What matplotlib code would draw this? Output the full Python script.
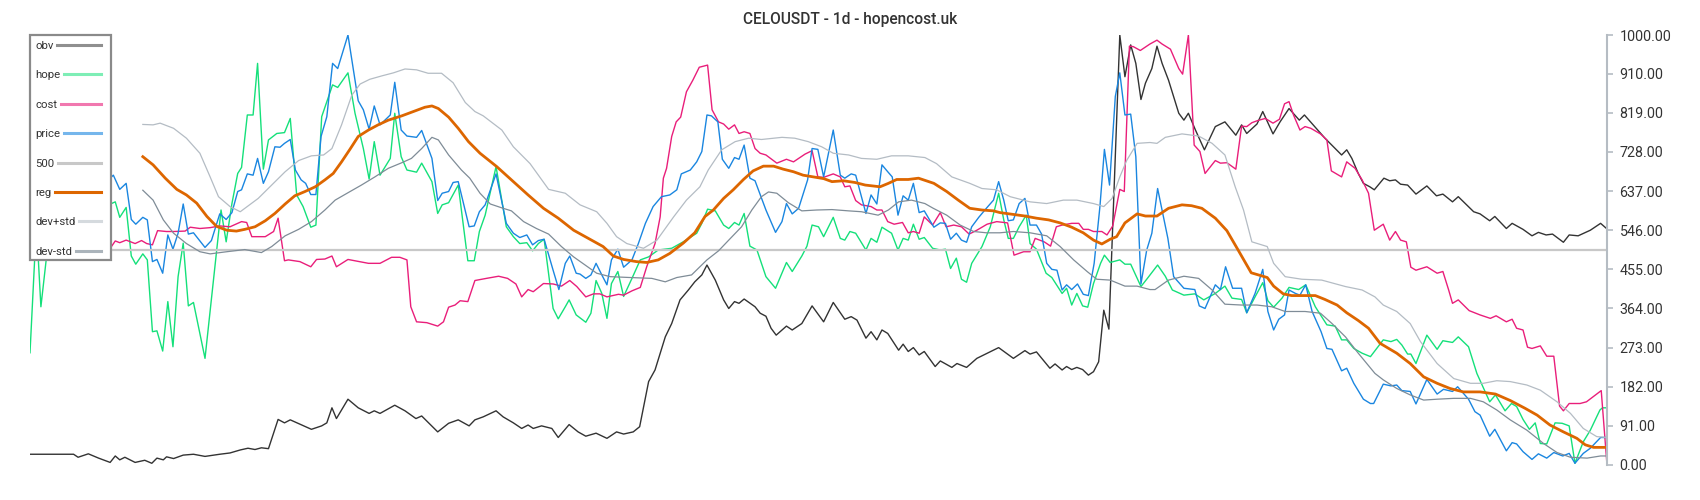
import matplotlib
matplotlib.use('Agg')
import matplotlib.pyplot as plt
from matplotlib.lines import Line2D
from matplotlib.patches import Rectangle

plt.rcParams['font.family'] = ['Roboto', 'DejaVu Sans']

# ---- data: (day, value) ----
obv_pts = [
    (0, 25), (3.6, 25), (6.8, 25), (7.5, 18), (9.1, 26), (10.7, 16), (12.5, 6), (13.3, 21), (14.0, 12),
    (14.8, 18), (16.4, 6), (17.9, 11), (19.0, 4), (19.8, 16), (20.8, 12), (21.3, 19), (22.4, 15), (23.9, 23),
    (25.5, 25), (27.3, 20), (29.6, 25), (31.2, 28), (32.8, 35), (34.0, 39), (35.1, 36), (36.1, 40), (37.2, 38),
    (38.7, 106), (39.7, 98), (40.6, 105), (42.1, 95), (43.9, 83), (45.5, 91), (46.3, 98), (47.1, 133), (47.8, 108),
    (49.6, 153), (51.2, 133), (52.9, 120), (53.7, 126), (54.6, 120), (56.9, 139), (58.5, 126), (60.2, 108),
    (61.1, 114), (63.6, 77), (65.3, 97), (66.8, 105), (68.5, 91), (69.4, 105), (70.7, 112), (72.7, 126),
    (73.8, 112), (75.4, 98), (76.7, 85), (77.7, 93), (78.5, 85), (79.8, 91), (81.4, 85), (82.4, 64), (84.1, 94),
    (85.5, 77), (86.7, 67), (88.3, 74), (90.0, 62), (91.5, 77), (92.6, 72), (94.1, 77), (95.1, 89), (96.5, 194),
    (97.5, 221), (99.1, 298), (100.1, 329), (101.4, 384), (102.7, 407), (103.7, 426), (104.8, 442), (105.6, 465),
    (106.9, 430), (108.2, 384), (109.0, 364), (109.9, 380), (110.6, 376), (111.4, 386), (113.1, 368), (113.9, 353),
    (114.8, 346), (115.6, 318), (116.4, 302), (118.0, 323), (118.9, 314), (120.4, 329), (122.0, 370), (123.8, 333),
    (125.3, 378), (127.1, 339), (128.1, 345), (129.0, 337), (130.4, 295), (131.2, 310), (132.1, 291), (132.9, 314),
    (133.8, 306), (135.5, 267), (136.2, 281), (137.0, 264), (137.8, 273), (138.7, 256), (139.5, 264), (141.2, 229),
    (142.0, 242), (143.8, 227), (144.6, 236), (146.1, 227), (147.7, 248), (151.1, 273), (153.4, 248), (155.2, 266),
    (156.0, 258), (157.0, 263), (159.1, 225), (159.9, 235), (161.0, 221), (161.7, 229), (162.5, 222), (163.3, 227),
    (164.2, 222), (165.1, 209), (165.9, 217), (166.7, 240), (167.5, 360), (168.3, 316), (170.0, 1000), (170.8, 903),
    (171.7, 977), (172.5, 934), (173.3, 850), (174.0, 888), (175.0, 922), (175.8, 974), (176.6, 934), (177.6, 895),
    (179.2, 818), (180.0, 802), (180.7, 818), (181.8, 779), (183.2, 733), (184.9, 787), (186.4, 798), (188.1, 767),
    (189.0, 791), (189.8, 771), (191.4, 793), (192.3, 822), (193.9, 770), (195.0, 798), (196.4, 829), (198.0, 802),
    (198.8, 814), (202.0, 760), (204.6, 721), (205.4, 733), (206.2, 713), (207.2, 678), (208.0, 655), (209.0, 647),
    (209.7, 640), (211.2, 667), (212.1, 661), (213.0, 663), (213.8, 653), (214.9, 651), (216.2, 630), (217.9, 649),
    (219.4, 626), (220.4, 630), (221.9, 612), (222.8, 624), (225.2, 589), (226.2, 584), (227.7, 568), (228.5, 578),
    (230.3, 550), (231.2, 562), (232.9, 548), (234.3, 533), (235.3, 541), (236.5, 535), (237.5, 537), (239.2, 518),
    (240.1, 535), (241.5, 533), (243.4, 546), (245.0, 562), (246.0, 549),
]

hope_pts = [
    (0, 261), (1, 560), (1.7, 368), (3, 540), (5, 600), (7, 560), (9, 610), (11, 575), (12.7, 608), (13.3, 612),
    (14.0, 576), (15.0, 599), (15.8, 486), (16.5, 467), (17.6, 491), (18.3, 477), (19.1, 310), (19.8, 312),
    (20.7, 265), (21.5, 380), (22.3, 275), (23.1, 438), (23.9, 516), (24.7, 370), (25.5, 378), (27.3, 248),
    (29.8, 593), (30.6, 519), (31.5, 608), (32.4, 678), (33.0, 692), (33.9, 814), (34.8, 814), (35.5, 934),
    (36.4, 688), (37.2, 756), (38.5, 771), (39.7, 773), (40.6, 806), (41.6, 628), (42.6, 601), (43.8, 553),
    (44.6, 558), (45.5, 810), (47.2, 884), (48.0, 878), (49.6, 912), (50.7, 818), (52.0, 736), (52.9, 665),
    (53.7, 752), (54.6, 674), (56.2, 713), (56.9, 818), (57.9, 717), (58.8, 686), (60.3, 681), (61.1, 702),
    (62.7, 659), (63.6, 585), (64.3, 605), (65.3, 610), (66.8, 651), (68.3, 475), (69.3, 475), (70.1, 543),
    (71.0, 581), (72.7, 694), (74.3, 554), (75.4, 531), (76.4, 515), (77.5, 517), (78.4, 498), (79.3, 515),
    (80.2, 525), (81.6, 364), (82.4, 340), (83.5, 368), (84.1, 384), (85.2, 349), (86.7, 332), (87.5, 353),
    (88.3, 429), (89.2, 399), (90.0, 341), (90.7, 422), (91.7, 450), (92.6, 392), (93.9, 434), (95.2, 477),
    (96.5, 484), (98.0, 500), (100.1, 504), (101.9, 519), (104.0, 539), (104.8, 562), (105.7, 595), (106.9, 591),
    (108.2, 558), (109.0, 550), (109.9, 564), (110.6, 558), (111.4, 585), (112.3, 509), (113.4, 500), (114.8, 438),
    (116.3, 411), (118.0, 471), (118.9, 450), (120.4, 486), (121.2, 509), (122.0, 558), (123.0, 554), (123.8, 531),
    (125.3, 576), (126.4, 527), (127.1, 523), (127.9, 543), (128.8, 539), (130.4, 500), (131.2, 527), (132.1, 518),
    (132.9, 553), (134.4, 539), (135.4, 500), (136.2, 527), (137.0, 523), (137.8, 560), (138.7, 525), (139.5, 529),
    (140.8, 504), (142.0, 500), (142.8, 502), (143.6, 457), (144.5, 481), (145.3, 432), (146.1, 425), (146.9, 469),
    (148.5, 508), (149.8, 554), (151.1, 632), (151.9, 570), (152.6, 527), (153.4, 527), (154.3, 554), (155.4, 581),
    (156.0, 515), (157.0, 502), (158.5, 446), (159.4, 436), (161.0, 399), (161.7, 411), (162.5, 372), (163.3, 399),
    (164.2, 370), (165.0, 367), (165.9, 422), (167.0, 469), (167.6, 488), (168.5, 471), (170.0, 477), (170.8, 467),
    (171.7, 467), (173.3, 415), (174.2, 432), (175.9, 465), (177.1, 439), (178.2, 407), (180.0, 395), (181.7, 398),
    (183.1, 384), (184.9, 399), (186.4, 416), (187.5, 388), (189.0, 385), (189.8, 354), (191.1, 391), (192.3, 424),
    (193.1, 382), (194.0, 367), (195.3, 388), (196.4, 413), (197.9, 408), (199.0, 419), (200.5, 368), (202.3, 326),
    (203.6, 323), (204.6, 291), (205.4, 291), (206.5, 271), (207.8, 260), (209.1, 252), (211.1, 291), (212.3, 287),
    (213.2, 292), (214.0, 279), (214.9, 258), (215.4, 258), (216.2, 236), (217.9, 302), (219.5, 269), (220.4, 289),
    (221.9, 285), (222.8, 298), (224.4, 275), (225.7, 213), (227.7, 147), (228.6, 163), (230.1, 126), (231.1, 143),
    (231.9, 136), (232.9, 106), (233.9, 83), (234.8, 98), (235.6, 50), (236.6, 49), (237.9, 98), (239.0, 97),
    (240.1, 91), (241.0, 4), (242.3, 54), (243.4, 81), (244.9, 128), (245.3, 133), (246.0, 133),
]

cost_pts = [
    (0, 520), (3, 512), (6, 525), (9, 515), (12.7, 508), (13.3, 521), (14.0, 517), (15.0, 523), (16.4, 515),
    (17.4, 522), (18.2, 515), (19.1, 512), (19.9, 545), (21.3, 543), (22.4, 543), (24.2, 544), (25.0, 553),
    (26.5, 550), (28.1, 552), (29.6, 556), (31.2, 554), (33.0, 566), (33.8, 564), (34.6, 531), (36.7, 531),
    (38.0, 543), (38.7, 574), (39.7, 475), (40.3, 477), (42.1, 473), (43.8, 461), (44.7, 478), (46.0, 479),
    (47.1, 486), (47.8, 461), (49.6, 478), (52.8, 469), (54.6, 469), (56.4, 483), (57.7, 483), (58.8, 477),
    (59.4, 368), (60.3, 333), (61.9, 331), (63.6, 323), (64.5, 333), (65.3, 367), (66.3, 372), (67.1, 382),
    (68.3, 380), (69.4, 429), (71.2, 434), (73.1, 439), (74.5, 434), (75.8, 421), (76.7, 391), (77.7, 408),
    (78.5, 403), (80.1, 422), (81.6, 421), (82.9, 416), (84.2, 429), (85.3, 415), (86.7, 391), (87.9, 398),
    (88.9, 398), (90.0, 391), (91.8, 397), (92.6, 395), (93.9, 405), (95.2, 413), (96.2, 461), (97.5, 515),
    (98.3, 577), (98.8, 667), (99.3, 690), (100.1, 764), (100.8, 798), (101.5, 809), (102.4, 868), (103.4, 895),
    (104.4, 925), (105.7, 930), (106.4, 826), (107.4, 798), (108.2, 793), (109.0, 781), (109.9, 791), (110.6, 771),
    (111.4, 775), (112.3, 771), (113.1, 736), (113.9, 725), (114.8, 721), (116.5, 702), (118.0, 711), (119.1, 705),
    (120.9, 723), (122.0, 731), (122.9, 670), (123.8, 669), (125.3, 677), (126.4, 670), (127.1, 647), (127.9, 649),
    (128.8, 615), (129.7, 605), (131.2, 601), (132.1, 593), (132.9, 593), (133.8, 566), (134.8, 560), (136.1, 564),
    (137.0, 540), (137.8, 543), (138.7, 539), (139.5, 577), (140.8, 558), (142.0, 587), (142.9, 554), (144.1, 558),
    (145.3, 554), (146.5, 537), (147.7, 546), (149.3, 560), (150.8, 566), (152.5, 563), (153.5, 488), (155.0, 496),
    (156.0, 496), (156.8, 527), (158.2, 519), (159.2, 509), (160.1, 554), (161.0, 558), (162.5, 562), (163.6, 562),
    (164.3, 548), (165.1, 548), (165.9, 543), (167.2, 543), (168.0, 535), (168.9, 556), (170.0, 641), (170.7, 636),
    (171.5, 974), (172.1, 973), (173.2, 964), (174.7, 979), (175.8, 988), (176.6, 979), (177.9, 967), (179.2, 922),
    (179.8, 909), (180.7, 1000), (181.6, 744), (182.5, 729), (183.3, 678), (184.9, 708), (185.7, 702), (186.7, 703),
    (188.1, 688), (189.0, 788), (189.8, 787), (190.6, 796), (191.5, 801), (192.7, 806), (193.9, 795), (194.9, 804),
    (195.7, 840), (196.4, 845), (197.1, 814), (198.1, 779), (198.9, 787), (199.8, 783), (201.3, 770), (202.3, 756),
    (203.0, 684), (204.6, 670), (205.4, 705), (206.7, 690), (207.8, 663), (208.8, 632), (209.7, 546), (211.1, 560),
    (212.1, 523), (213.0, 543), (213.8, 523), (214.7, 519), (215.4, 460), (216.2, 453), (217.9, 461), (219.5, 446),
    (220.4, 450), (221.3, 407), (221.9, 376), (222.8, 384), (224.5, 359), (226.2, 349), (227.8, 341), (228.7, 347),
    (230.3, 333), (231.2, 339), (231.9, 318), (232.9, 314), (233.6, 274), (234.3, 271), (235.6, 277), (236.6, 253),
    (237.7, 253), (238.6, 137), (239.2, 126), (240.1, 143), (241.8, 143), (242.8, 147), (244.9, 171), (245.1, 173),
    (246.0, 0),
]

price_pts = [
    (0, 655), (2, 630), (4, 665), (6, 620), (8, 645), (10, 610), (12, 660), (13.0, 674), (14.0, 641), (15.0, 655),
    (15.8, 571), (16.5, 560), (17.6, 576), (18.3, 570), (19.1, 473), (19.8, 478), (20.7, 446), (21.5, 535),
    (22.3, 502), (23.1, 539), (23.9, 607), (24.7, 537), (25.5, 540), (27.3, 506), (28.3, 522), (29.6, 584),
    (30.6, 571), (31.5, 587), (32.4, 636), (33.0, 640), (33.9, 677), (34.8, 674), (35.5, 713), (36.4, 655),
    (37.2, 682), (38.2, 740), (39.0, 739), (39.7, 748), (40.6, 757), (41.4, 686), (42.3, 663), (43.0, 655),
    (43.8, 629), (44.6, 629), (45.4, 764), (46.3, 810), (47.2, 934), (48.0, 922), (49.6, 1000), (51.2, 847),
    (52.0, 826), (52.9, 781), (53.7, 835), (54.6, 791), (56.2, 814), (56.9, 890), (57.9, 779), (58.8, 765),
    (60.3, 762), (61.1, 778), (62.7, 713), (63.6, 615), (64.3, 632), (65.3, 636), (66.0, 657), (66.8, 659),
    (68.5, 554), (69.3, 556), (70.1, 589), (71.0, 605), (71.9, 643), (72.7, 677), (74.3, 562), (75.4, 539),
    (76.4, 529), (77.5, 535), (78.4, 512), (79.3, 522), (80.2, 525), (81.6, 453), (82.5, 408), (83.5, 469),
    (84.2, 486), (85.2, 446), (85.8, 444), (86.7, 434), (87.5, 442), (88.3, 469), (89.2, 442), (90.0, 419),
    (90.7, 477), (91.7, 502), (92.6, 460), (93.9, 477), (94.9, 515), (96.0, 562), (97.2, 601), (98.5, 624),
    (99.8, 628), (100.9, 640), (101.6, 677), (103.0, 686), (104.0, 705), (104.8, 729), (105.6, 814), (106.3, 812),
    (107.3, 798), (108.0, 711), (109.0, 690), (109.9, 715), (110.6, 711), (111.4, 744), (112.3, 667), (113.1, 661),
    (114.8, 593), (116.3, 541), (117.3, 566), (118.0, 608), (118.9, 584), (119.9, 597), (121.3, 663), (122.0, 736),
    (122.9, 734), (123.8, 670), (125.3, 779), (126.4, 674), (127.1, 667), (128.1, 677), (128.8, 674), (130.4, 585),
    (131.2, 628), (132.1, 607), (132.9, 698), (133.8, 682), (134.5, 670), (135.4, 581), (136.2, 626), (137.0, 616),
    (137.8, 655), (138.7, 587), (139.5, 591), (141.0, 553), (142.0, 563), (142.8, 562), (143.6, 525), (144.5, 539),
    (145.3, 523), (146.1, 518), (146.9, 554), (148.0, 576), (149.3, 599), (150.3, 616), (151.1, 659), (151.9, 616),
    (152.6, 568), (153.4, 570), (154.3, 608), (155.2, 620), (156.0, 558), (157.0, 558), (157.8, 537), (158.6, 469),
    (159.4, 455), (160.2, 453), (161.0, 407), (161.7, 419), (162.5, 408), (163.4, 421), (164.3, 397), (165.1, 394),
    (166.0, 469), (166.9, 601), (167.6, 734), (168.4, 651), (169.3, 857), (170.0, 912), (170.8, 814), (171.7, 816),
    (172.5, 717), (173.3, 421), (174.2, 500), (175.0, 539), (175.9, 643), (177.5, 527), (178.4, 438), (180.0, 411),
    (181.7, 408), (182.4, 370), (183.3, 364), (184.9, 419), (185.7, 408), (186.5, 461), (187.6, 411), (189.0, 411),
    (189.8, 354), (191.1, 399), (192.3, 455), (193.1, 357), (194.0, 314), (194.8, 339), (195.7, 349), (196.4, 407),
    (197.4, 399), (198.1, 395), (199.0, 419), (200.0, 357), (201.4, 310), (202.3, 271), (203.1, 269), (204.6, 219),
    (205.4, 225), (206.5, 190), (208.0, 153), (209.1, 143), (209.6, 143), (211.1, 188), (212.3, 184), (213.2, 186),
    (214.0, 173), (215.3, 171), (216.2, 142), (217.9, 199), (219.5, 165), (220.5, 176), (221.9, 171), (222.7, 182),
    (224.4, 153), (225.4, 124), (226.2, 116), (227.7, 67), (228.5, 83), (230.3, 33), (231.2, 52), (231.9, 49),
    (232.9, 31), (234.3, 13), (235.3, 26), (236.6, 16), (237.7, 29), (239.1, 21), (240.1, 27), (241.0, 4),
    (242.3, 27), (243.4, 39), (245.0, 64), (246.0, 64),
]

reg_pts = [
    (17.6, 717), (19.2, 698), (21.1, 667), (22.9, 641), (24.4, 628), (26.0, 609), (27.6, 578), (29.1, 555),
    (30.7, 546), (32.2, 544), (33.5, 548), (35.1, 554), (36.7, 568), (38.2, 585), (39.8, 607), (41.3, 626),
    (42.9, 636), (44.5, 647), (46.0, 663), (47.3, 678), (48.6, 705), (49.9, 734), (51.2, 764), (52.8, 779),
    (54.3, 791), (55.9, 802), (58.0, 812), (59.8, 822), (61.6, 832), (62.7, 835), (63.7, 829), (65.3, 809),
    (66.8, 783), (68.4, 752), (70.2, 725), (72.8, 694), (75.4, 659), (77.7, 628), (80.1, 597), (82.4, 574),
    (84.8, 546), (87.1, 527), (89.4, 508), (91.0, 486), (92.6, 478), (94.6, 473), (96.2, 471), (98.0, 477),
    (99.8, 492), (101.9, 516), (103.7, 540), (105.3, 578), (106.6, 593), (108.2, 620), (109.7, 640), (111.3, 664),
    (112.8, 684), (114.4, 695), (116.0, 695), (117.5, 688), (119.1, 682), (120.6, 674), (122.2, 670), (123.8, 666),
    (125.1, 659), (126.9, 661), (128.7, 657), (130.3, 651), (132.6, 647), (133.9, 655), (135.2, 664), (137.0, 664),
    (138.6, 667), (141.0, 655), (143.0, 636), (144.8, 616), (146.6, 597), (148.5, 593), (150.3, 591), (151.3, 587),
    (153.2, 583), (155.2, 579), (157.0, 574), (158.9, 570), (160.7, 563), (162.5, 553), (164.3, 540), (165.9, 523),
    (167.2, 514), (168.5, 525), (169.5, 531), (170.8, 563), (172.7, 584), (174.0, 579), (175.8, 579), (177.6, 597),
    (179.7, 605), (181.2, 603), (182.8, 597), (184.9, 574), (186.7, 545), (188.3, 504), (190.5, 447), (193.0, 436),
    (194.0, 416), (195.5, 398), (196.8, 394), (200.5, 394), (202.0, 385), (203.9, 372), (205.4, 354), (207.2, 336),
    (208.8, 318), (210.6, 283), (213.2, 260), (215.3, 236), (217.4, 205), (219.5, 190), (221.5, 178), (223.6, 170),
    (226.2, 170), (228.6, 165), (230.9, 150), (233.2, 132), (235.1, 116), (237.1, 93), (239.2, 77), (241.3, 62),
    (242.6, 47), (243.9, 41), (246.0, 41),
]

dev_plus_pts = [
    (17.6, 792), (19.2, 791), (20.3, 795), (22.4, 783), (24.4, 760), (26.5, 725), (28.1, 670), (29.4, 624),
    (31.2, 601), (32.8, 589), (35.6, 620), (37.7, 651), (39.8, 682), (41.9, 708), (43.9, 719), (45.8, 721),
    (47.1, 736), (48.6, 791), (50.2, 860), (51.5, 886), (53.0, 897), (54.9, 905), (56.7, 912), (58.5, 921),
    (60.3, 919), (62.1, 911), (64.2, 911), (66.0, 889), (67.9, 843), (69.4, 822), (70.7, 812), (73.6, 779),
    (75.4, 740), (78.0, 701), (80.9, 641), (83.5, 632), (85.8, 605), (88.4, 589), (90.0, 562), (91.5, 531),
    (93.1, 515), (95.7, 504), (97.8, 523), (100.4, 577), (102.4, 616), (104.5, 647), (105.8, 686), (107.9, 733),
    (110.0, 752), (112.1, 760), (114.1, 757), (117.3, 762), (119.3, 760), (121.4, 752), (123.5, 740), (125.3, 725),
    (127.7, 721), (129.7, 713), (132.1, 711), (134.4, 719), (137.0, 719), (139.6, 715), (141.4, 701), (143.8, 670),
    (146.6, 655), (148.5, 643), (150.8, 640), (152.9, 624), (156.0, 612), (158.6, 608), (161.2, 616), (163.3, 616),
    (165.9, 608), (167.5, 601), (168.8, 620), (170.0, 670), (171.1, 709), (172.7, 748), (174.7, 750), (175.8, 748),
    (177.1, 762), (179.7, 770), (182.3, 765), (184.4, 748), (186.4, 721), (188.0, 647), (189.3, 593), (190.6, 519),
    (193.0, 508), (194.0, 469), (195.8, 438), (198.4, 432), (201.5, 430), (205.2, 415), (207.8, 407), (209.8, 391),
    (211.1, 372), (213.2, 357), (215.3, 329), (216.9, 287), (219.5, 236), (222.1, 201), (224.7, 190), (226.7, 190),
    (228.8, 196), (230.9, 194), (233.5, 186), (235.6, 174), (238.2, 147), (240.3, 120), (242.3, 85), (244.4, 66),
    (246.0, 64),
]

dev_minus_pts = [
    (17.6, 639), (19.2, 616), (20.8, 570), (22.4, 539), (24.4, 515), (26.5, 496), (28.1, 491), (30.7, 496),
    (33.5, 501), (36.1, 494), (37.7, 508), (39.8, 533), (41.9, 548), (43.9, 566), (46.0, 593), (47.6, 616),
    (49.7, 634), (51.7, 651), (53.8, 670), (55.9, 690), (58.0, 703), (59.5, 713), (61.1, 736), (62.7, 762),
    (63.7, 756), (65.3, 721), (67.3, 686), (68.6, 667), (70.2, 632), (71.8, 607), (73.8, 597), (75.1, 591),
    (77.0, 566), (79.0, 550), (80.9, 537), (82.9, 508), (84.8, 484), (86.6, 465), (88.4, 446), (90.5, 438),
    (93.6, 436), (97.0, 434), (99.1, 426), (100.9, 436), (103.2, 442), (104.5, 461), (105.6, 477), (107.4, 498),
    (109.0, 523), (111.0, 554), (112.6, 593), (114.1, 624), (115.2, 635), (116.5, 632), (118.3, 610), (120.4, 591),
    (122.7, 593), (125.1, 594), (127.7, 591), (129.7, 589), (132.3, 581), (133.9, 593), (135.5, 612), (137.5, 616),
    (139.6, 608), (140.9, 597), (143.0, 581), (145.1, 558), (147.2, 543), (149.2, 540), (151.3, 540), (153.4, 543),
    (156.0, 540), (158.6, 533), (160.7, 508), (162.8, 477), (164.9, 450), (166.4, 432), (168.5, 430), (170.8, 416),
    (172.7, 416), (174.7, 408), (175.5, 408), (177.6, 430), (180.0, 439), (182.3, 434), (184.4, 407), (186.4, 374),
    (189.0, 372), (191.4, 372), (193.7, 368), (195.8, 357), (198.9, 357), (201.3, 353), (203.1, 329), (205.2, 298),
    (207.2, 260), (209.8, 213), (211.1, 198), (213.2, 178), (215.3, 163), (217.4, 151), (219.5, 153), (222.1, 155),
    (224.7, 155), (226.7, 147), (228.8, 128), (230.9, 105), (233.5, 81), (236.1, 50), (238.2, 29), (240.3, 18),
    (242.9, 16), (245.0, 21), (246.0, 21),
]

level_500 = 500
y_ticks = [0, 91, 182, 273, 364, 455, 546, 637, 728, 819, 910, 1000]
last_day = 246

W, H = 1700, 500
fig = plt.figure(figsize=(W / 100, H / 100), dpi=100)
ax = fig.add_axes([30 / W, 35 / H, 1577 / W, 430 / H])

# label, points, line colour, line width, legend handle alpha
series = [
    ('obv', obv_pts, '#333333', 1.0, 0.55),
    ('hope', hope_pts, '#14e07a', 1.0, 0.55),
    ('cost', cost_pts, '#e91e7a', 1.0, 0.6),
    ('price', price_pts, '#1a86e0', 1.0, 0.6),
    ('500', None, '#c8c8c8', 1.6, 1.0),
    ('reg', reg_pts, '#dd6600', 2.0, 1.0),
    ('dev+std', dev_plus_pts, '#b4bcc4', 0.9, 0.55),
    ('dev-std', dev_minus_pts, '#7f8c97', 0.9, 0.65),
]

for label, pts, color, lw, _ in series:
    if pts is None:
        ax.axhline(level_500, color=color, lw=lw)
        continue
    days, vals = zip(*pts)
    ax.plot(days, vals, color=color, lw=lw)

ax.set_xlim(0, last_day)
ax.set_ylim(0, 1000)
ax.set_xticks([])
ax.yaxis.tick_right()
ax.set_yticks(y_ticks)
ax.set_yticklabels([f'{t:.2f}' for t in y_ticks])
for side in ['left', 'top', 'bottom']:
    ax.spines[side].set_visible(False)
ax.spines['right'].set_color('#b5bcc3')
ax.spines['right'].set_linewidth(1.5)
ax.tick_params(axis='y', colors='#b5bcc3', labelcolor='#333333', length=4, width=1.2,
               labelsize=10.3, pad=5)

fig.text(0.5, 1 - 19.5 / H, 'CELOUSDT - 1d - hopencost.uk', ha='center', va='center',
         fontsize=11.2, fontweight='medium', color='#333333')

# legend drawn by hand: text left, line handle filling to the right edge
fig.canvas.draw()
renderer = fig.canvas.get_renderer()
box = Rectangle((30 / W, 1 - 260 / H), 81 / W, 225 / H, transform=fig.transFigure,
                facecolor='white', edgecolor='#8a8a8a', lw=1.6, zorder=10)
fig.add_artist(box)
for i, (label, pts, color, lw, alpha) in enumerate(series):
    yf = 1 - (45 + 29.4 * i) / H
    t = fig.text(35 / W, yf, label, ha='left', va='center_baseline', fontsize=8.2,
                 color='#333333', zorder=11)
    bb = t.get_window_extent(renderer)
    fig.add_artist(Line2D([(bb.x1 + 4) / W, 101 / W], [yf, yf], transform=fig.transFigure,
                          color=color, alpha=alpha, lw=2.2, zorder=11))

fig.savefig('out.png', dpi=100)
